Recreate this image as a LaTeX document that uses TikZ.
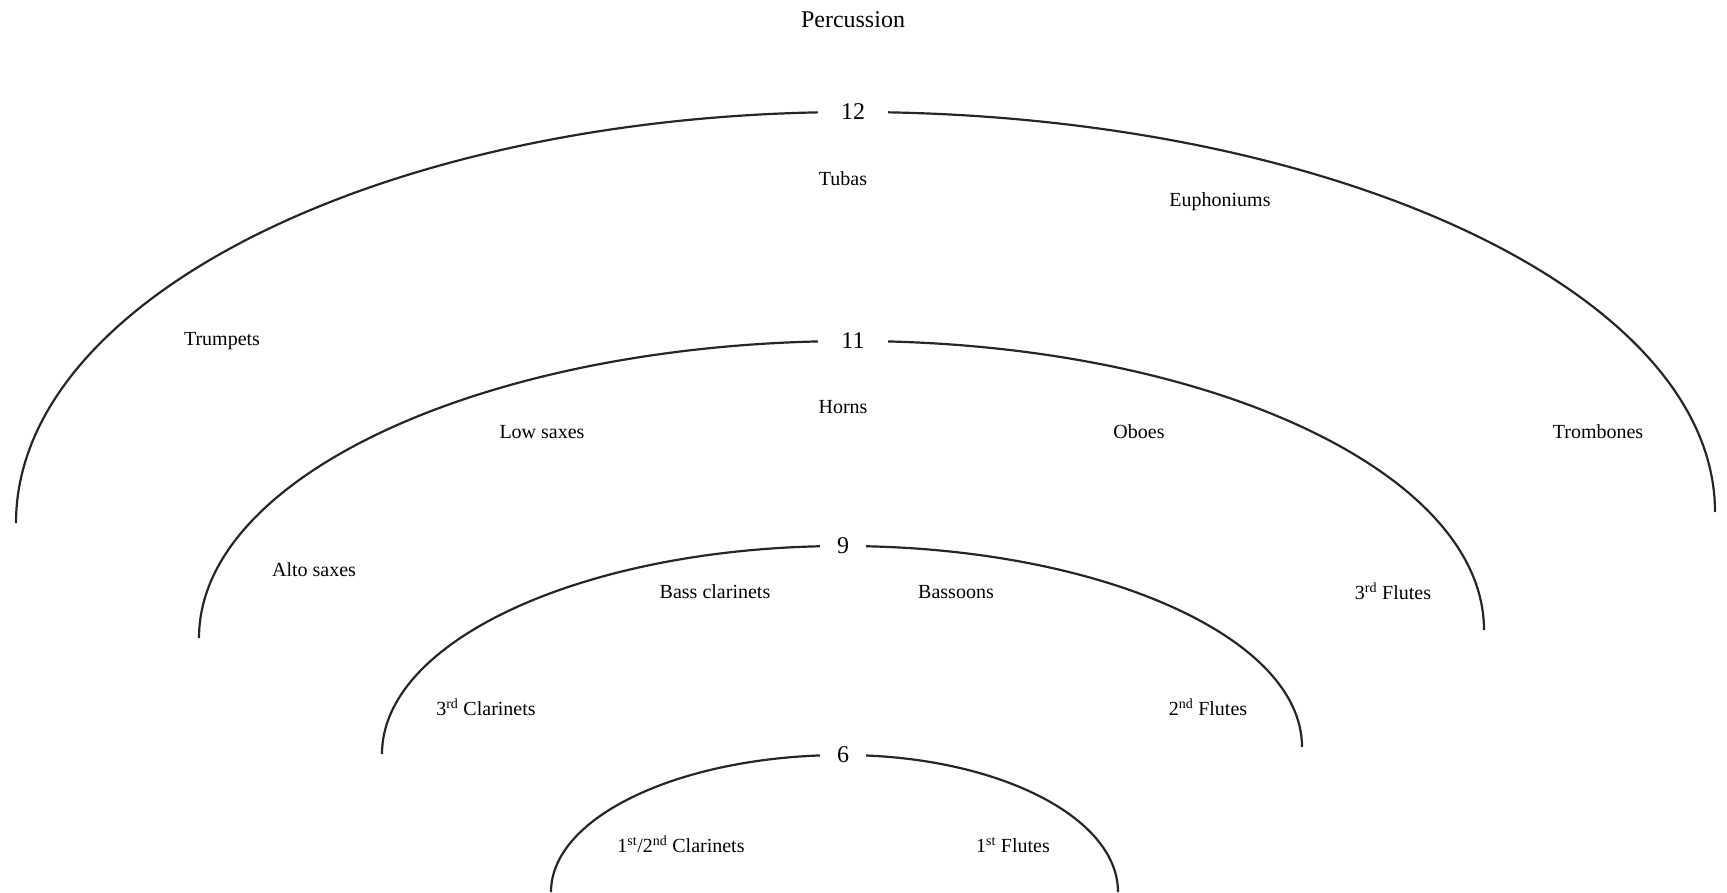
\documentclass[tikz,border=0pt]{standalone}
\usepackage{fontspec}
\setmainfont{Liberation Serif}
\usetikzlibrary{positioning}

\tikzset{
  num/.style={fill=white,inner xsep=#1,inner ysep=2pt,font=\fontsize{24}{28}\selectfont},
  part/.style={font=\fontsize{20}{24}\selectfont,inner sep=0pt}
}

\begin{document}
\begin{tikzpicture}[x=1pt,y=-1pt]
    \useasboundingbox (0,0) rectangle (1727,892);
    \clip (0,0) rectangle (1727,892);

    \node (perc) [font=\fontsize{24}{28}\selectfont] at (853,20) {Percussion};

    % rows: label / left end / top / right end / gap
    \foreach \i/\lx/\ly/\cx/\t/\rx/\ry/\g in {12/16/523/853/112/1715/512/23pt,
                                               11/199/638/853/341/1484/630/23pt,
                                               9/382/754/843/546/1302/747/17pt,
                                               6/551/892/843/755/1118/892/17pt} {
        \pgfmathsetmacro{\ra}{\cx-\lx}
        \pgfmathsetmacro{\rb}{\ly-\t}
        \pgfmathsetmacro{\rc}{\rx-\cx}
        \pgfmathsetmacro{\rd}{\ry-\t}
        \draw[line width=2.2pt,black!85] (\lx,\ly)
            arc[start angle=180,end angle=90,x radius=\ra pt,y radius=\rb pt]
            arc[start angle=90,end angle=0,x radius=\rc pt,y radius=\rd pt];
        \node (\i) [num=\g] at (\cx,\t) {\i};
    }

    % outer row
    \node (tubas) [part] at (843,179) {Tubas};
    \node (euph) [part] at (1220,202) {Euphoniums};
    \node (trumpets) [part] at (222,341) {Trumpets};
    \node (horns) [part] at (843,407) {Horns};
    \node (lowsax) [part] at (542,432) {Low saxes};
    \node (oboes) [part] at (1139,432) {Oboes};
    \node (trombones) [part] at (1598,432) {Trombones};
    % middle rows
    \node (altosax) [part] at (314,570) {Alto saxes};
    \node (basscl) [part] at (715,592) {Bass clarinets};
    \node (bassoons) [part] at (956,592) {Bassoons};
    \node (fl3) [part] at (1393,591) {3\textsuperscript{rd} Flutes};
    \node (cl3) [part] at (486,707) {3\textsuperscript{rd} Clarinets};
    \node (fl2) [part] at (1208,707) {2\textsuperscript{nd} Flutes};
    % front row
    \node (cl12) [part] at (681,844) {1\textsuperscript{st}/2\textsuperscript{nd} Clarinets};
    \node (fl1) [part] at (1013,845) {1\textsuperscript{st} Flutes};

  \end{tikzpicture}
\end{document}
